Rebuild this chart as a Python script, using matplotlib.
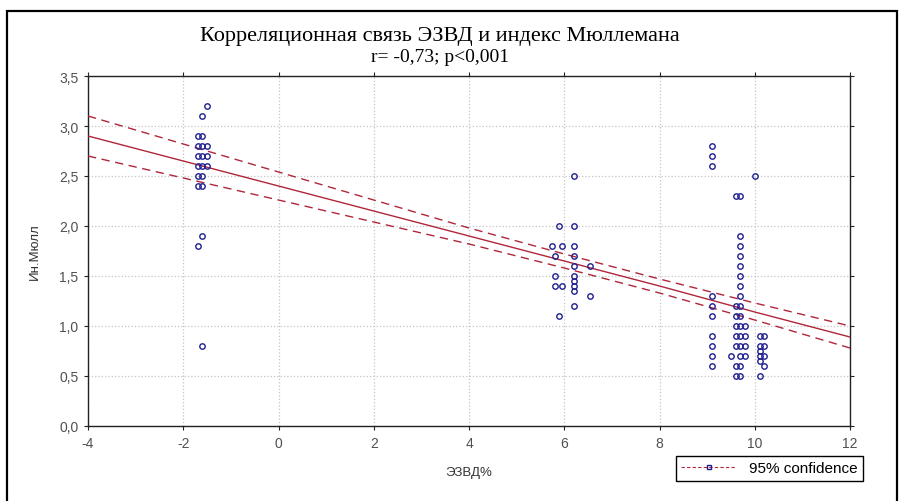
import numpy as np
import matplotlib.pyplot as plt
from matplotlib.lines import Line2D
from matplotlib.patches import Rectangle

plt.rcParams['axes.unicode_minus'] = False

# Data: ЭЗВД% (x) vs Ин.Мюлл (y)
ezvd = [-1.5, -1.6, -1.7, -1.6, -1.7, -1.6, -1.5, -1.7, -1.6, -1.5,
        -1.7, -1.6, -1.5, -1.7, -1.6, -1.7, -1.6, -1.6, -1.7, -1.6,
        5.9, 6.2, 6.2, 5.75, 5.95, 6.2, 5.8, 6.2, 6.2, 6.55,
        5.8, 6.2, 5.8, 5.95, 6.2, 6.2, 6.2, 6.55, 6.2, 5.9,
        9.1, 9.1, 9.1, 9.1, 9.1, 9.1, 9.1, 9.1, 9.1, 9.1,
        9.6, 9.7, 9.7, 9.7, 9.7, 9.7, 9.7, 9.7, 9.7, 9.7,
        9.6, 9.7, 9.6, 9.7, 9.8, 9.6, 9.7, 9.8, 9.6, 9.7,
        9.8, 9.6, 9.7, 9.8, 9.6, 9.7, 9.6, 9.7, 9.5,
        10.0, 10.1, 10.2, 10.1, 10.2, 10.1, 10.1, 10.2, 10.1, 10.2, 10.1]
muller = [3.2, 3.1, 2.9, 2.9, 2.8, 2.8, 2.8, 2.7, 2.7, 2.7,
          2.6, 2.6, 2.6, 2.5, 2.5, 2.4, 2.4, 1.9, 1.8, 0.8,
          2.0, 2.0, 2.5, 1.8, 1.8, 1.8, 1.7, 1.7, 1.6, 1.6,
          1.5, 1.5, 1.4, 1.4, 1.45, 1.4, 1.35, 1.3, 1.2, 1.1,
          2.8, 2.7, 2.6, 1.3, 1.2, 1.1, 0.9, 0.8, 0.7, 0.6,
          2.3, 2.3, 1.9, 1.8, 1.7, 1.6, 1.5, 1.4, 1.3, 1.2,
          1.2, 1.1, 1.1, 1.0, 1.0, 1.0, 0.9, 0.9, 0.9, 0.8,
          0.8, 0.8, 0.7, 0.7, 0.6, 0.6, 0.5, 0.5, 0.7,
          2.5, 0.9, 0.9, 0.8, 0.8, 0.75, 0.7, 0.7, 0.65, 0.6, 0.5]

# regression line and 95% band
band_x = [-4, -2, 0, 2, 4, 6, 8, 10, 12]
fit_y = [2.90, 2.65, 2.40, 2.15, 1.90, 1.65, 1.40, 1.14, 0.89]
upper_y = [3.10, 2.82, 2.54, 2.26, 1.98, 1.72, 1.47, 1.23, 1.00]
lower_y = [2.70, 2.48, 2.26, 2.04, 1.82, 1.58, 1.33, 1.06, 0.78]

xticks = [-4, -2, 0, 2, 4, 6, 8, 10, 12]
yticks = [0.0, 0.5, 1.0, 1.5, 2.0, 2.5, 3.0, 3.5]

fig = plt.figure(figsize=(9.06, 5.02), dpi=100)
ax = fig.add_axes([88 / 906, 1 - 427 / 502, 762 / 906, 350 / 502])

red = '#b0263a'
ax.plot(band_x, fit_y, color=red, lw=1.0, zorder=3)
ax.plot(band_x, upper_y, color=red, lw=1.0, ls=(0, (6, 4)), zorder=3)
ax.plot(band_x, lower_y, color=red, lw=1.0, ls=(0, (6, 4)), zorder=3)
ax.plot(ezvd, muller, ls='none', marker='o', ms=3.9, mfc='none', mec='#1f1f8f', mew=1.0, zorder=4)

ax.set_xlim(-4, 12)
ax.set_ylim(0, 3.5)
ax.set_xticks(xticks)
ax.set_xticklabels([str(v) for v in xticks])
ax.set_yticks(yticks)
ax.set_yticklabels([('%.1f' % v).replace('.', ',') for v in yticks])
ax.grid(True, ls=':', color='#c4c4c4', lw=0.9)
ax.tick_params(labelsize=10, colors='#222222', labelcolor='#505050', length=3, width=0.8, pad=4)
ax.tick_params(top=True, right=True, which='both')
for sp in ax.spines.values():
    sp.set_linewidth(1.0)
    sp.set_color('#222222')
for lab in ax.get_xticklabels() + ax.get_yticklabels():
    lab.set_family('Liberation Sans')

ax.set_xlabel('ЭЗВД%', family='Liberation Sans', fontsize=9.5, color='#333333', labelpad=12)
ax.set_ylabel('Ин.Мюлл', family='Liberation Sans', fontsize=9.5, color='#333333', labelpad=13)

fig.text(440 / 906, 1 - 36 / 502, 'Корреляционная связь ЭЗВД и индекс Мюллемана',
         family='Liberation Serif', fontsize=16, ha='center', va='center')
fig.text(440 / 906, 1 - 57 / 502, 'r= -0,73; p<0,001',
         family='Liberation Serif', fontsize=14, ha='center', va='center')

handle = Line2D([], [], color=red, lw=0.8, ls=(0, (3, 2)), marker='s', ms=3.5,
                mfc='none', mec='#1f1f8f')
leg = fig.legend([handle], ['95% confidence'], loc='upper left',
                 bbox_to_anchor=(676 / 906, 1 - 457 / 502), frameon=True, fancybox=False,
                 edgecolor='black', framealpha=1, prop={'family': 'Liberation Sans', 'size': 11},
                 handlelength=3.6, borderpad=0.35, borderaxespad=0, handletextpad=0.8)
leg.get_frame().set_linewidth(1.0)

fig.patches.append(Rectangle((7 / 906, -0.05), 890 / 906, 1.05 - 12 / 502,
                             transform=fig.transFigure, fill=False, ec='black', lw=1.6))

fig.savefig('out.png', dpi=100)
